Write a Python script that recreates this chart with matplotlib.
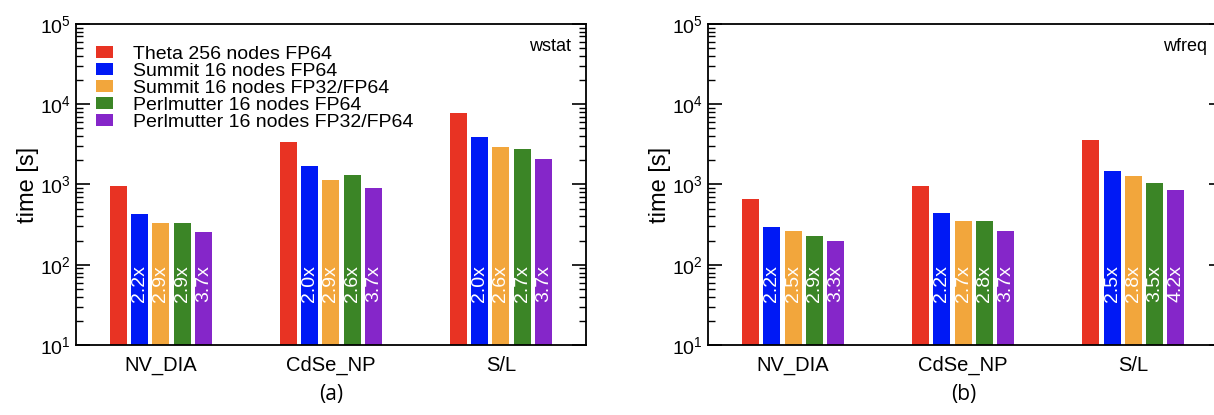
import matplotlib.pyplot as plt
import numpy as np

plt.rcParams['font.family'] = ['Liberation Sans', 'DejaVu Sans']

systems = ['Theta 256 nodes FP64', 'Summit 16 nodes FP64', 'Summit 16 nodes FP32/FP64',
           'Perlmutter 16 nodes FP64', 'Perlmutter 16 nodes FP32/FP64']
colors = ['#e83323', '#0019f5', '#f2a63c', '#3b8526', '#8526c9']
cases = ['NV_DIA', 'CdSe_NP', 'S/L']

# time [s] per system (rows) and case (columns)
wstat_times = [[950, 3420, 7720],
               [434, 1690, 3900],
               [330, 1145, 2930],
               [335, 1300, 2790],
               [258, 917, 2070]]
wstat_speedup = [['2.2x', '2.0x', '2.0x'],
                 ['2.9x', '2.9x', '2.6x'],
                 ['2.9x', '2.6x', '2.7x'],
                 ['3.7x', '3.7x', '3.7x']]

wfreq_times = [[656, 953, 3615],
               [292, 443, 1454],
               [266, 355, 1259],
               [228, 348, 1029],
               [195, 261, 849]]
wfreq_speedup = [['2.2x', '2.2x', '2.5x'],
                 ['2.5x', '2.7x', '2.8x'],
                 ['2.9x', '2.8x', '3.5x'],
                 ['3.3x', '3.7x', '4.2x']]


def draw_panel(ax, times, speedup, tag, show_legend):
    x = np.arange(len(cases))
    for i in range(len(systems)):
        off = (i - 2) * 0.125
        ax.bar(x + off, times[i], 0.1, color=colors[i], label=systems[i])
        if i > 0:
            for j in range(len(cases)):
                ax.text(x[j] + off, 34, speedup[i - 1][j], rotation=90, color='white',
                        ha='center', va='bottom', fontsize=14)
    ax.set_yscale('log')
    ax.set_ylim(10, 1e5)
    ax.set_xlim(-0.5, 2.5)
    ax.set_xticks(x)
    ax.set_xticklabels(cases, fontsize=14.5)
    ax.tick_params(axis='x', length=0, pad=8)
    ax.tick_params(axis='y', which='both', direction='in', left=True, right=True, labelsize=14)
    ax.tick_params(axis='y', which='major', length=10, width=1.2)
    ax.tick_params(axis='y', which='minor', length=5, width=1.0)
    for s in ax.spines.values():
        s.set_linewidth(1.3)
    ax.set_ylabel('time [s]', fontsize=17, labelpad=1)
    ax.text(0.97, 0.93, tag, transform=ax.transAxes, ha='right', va='center', fontsize=13)
    if show_legend:
        ax.legend(loc='upper left', bbox_to_anchor=(0.012, 0.975), frameon=False, fontsize=14,
                  labelspacing=0.0, handlelength=0.9, handleheight=0.58,
                  handletextpad=1.0, borderpad=0.2)


fig = plt.figure(figsize=(12.14, 4.15), dpi=100)
ax1 = fig.add_axes([0.0626, 0.1687, 0.420, 0.7735])
ax2 = fig.add_axes([0.5832, 0.1687, 0.424, 0.7735])

draw_panel(ax1, wstat_times, wstat_speedup, 'wstat', True)
draw_panel(ax2, wfreq_times, wfreq_speedup, 'wfreq', False)
ax2.set_xlim(-0.5, 2.525)

fig.text(0.2726, 0.05, '(a)', ha='center', va='center', fontsize=15, family=['Open Sans', 'DejaVu Sans'])
fig.text(0.7935, 0.05, '(b)', ha='center', va='center', fontsize=15, family=['Open Sans', 'DejaVu Sans'])

fig.savefig('out.png', dpi=100)
